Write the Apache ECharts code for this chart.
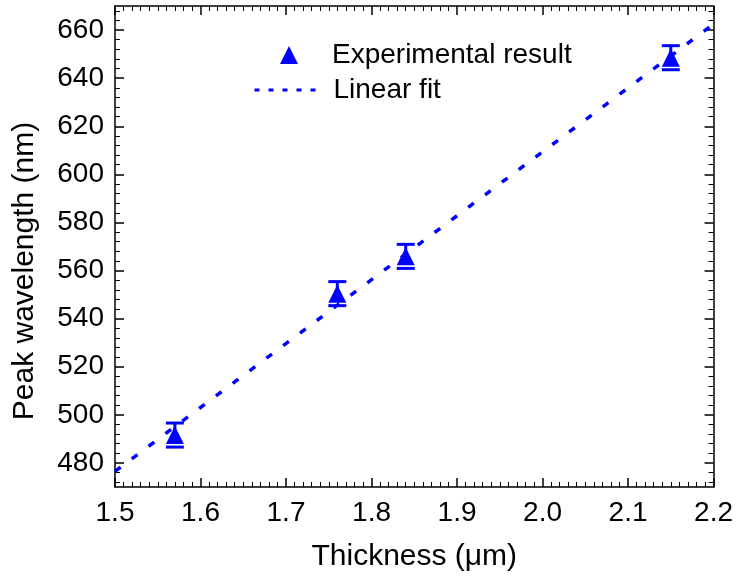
<!DOCTYPE html>
<html>
<head>
<meta charset="utf-8">
<script src="https://cdn.jsdelivr.net/npm/echarts@6/dist/echarts.min.js"></script>
<style>html,body{margin:0;padding:0;background:#fff}#c{width:736px;height:577px}</style>
</head>
<body>
<div id="c"></div>
<script>
const thickness = [1.57, 1.76, 1.84, 2.15];
const peakWavelength = [491.6, 550.4, 565.9, 648.5];
const errorNm = [5, 5, 5, 5];
const fitX = [1.5, 2.2];
const fitY = [476.5, 662.5];
const yMajorTicks = [480, 500, 520, 540, 560, 580, 600, 620, 640, 660];
const yMinorTicks = [472, 476, 484, 488, 492, 496, 504, 508, 512, 516, 524, 528, 532, 536,
  544, 548, 552, 556, 564, 568, 572, 576, 584, 588, 592, 596, 604, 608, 612, 616,
  624, 628, 632, 636, 644, 648, 652, 656, 664, 668];

const FONT = 'Liberation Sans, Arial, sans-serif';
const BLUE = '#0000ff';
const chart = echarts.init(document.getElementById('c'));

const xBase = {
  type: 'value', min: 1.5, max: 2.2, interval: 0.1,
  axisLine: { show: true, lineStyle: { color: '#000', width: 1.5 } },
  axisTick: { show: true, inside: true, length: 9, lineStyle: { color: '#000', width: 1.5 } },
  minorTick: { show: true, splitNumber: 10, length: 5, lineStyle: { color: '#000', width: 1 } },
  splitLine: { show: false }, minorSplitLine: { show: false }
};
const yBase = {
  type: 'value', min: 470, max: 670,
  splitLine: { show: false }
};

const scatterData = thickness.map((x, i) => [x, peakWavelength[i]]);
const errData = thickness.map((x, i) => [x, peakWavelength[i], errorNm[i]]);
const fitData = fitX.map((x, i) => [x, fitY[i]]);

const legendText = { fontFamily: FONT, fontSize: 28, color: '#000', lineHeight: 30 };

chart.setOption({
  animation: false,
  backgroundColor: '#fff',
  textStyle: { fontFamily: FONT },
  grid: { left: 115, right: 21, top: 6, bottom: 90, containLabel: false },
  legend: [
    {
      orient: 'vertical', left: 275, top: 35,
      itemWidth: 18, itemHeight: 18,
      textStyle: Object.assign({}, legendText, { padding: [0, 0, 0, 29] }),
      data: ['Experimental result']
    },
    {
      orient: 'vertical', left: 248, top: 70,
      itemWidth: 67, itemHeight: 18,
      lineStyle: { type: [5, 9], width: 3 },
      itemStyle: { opacity: 0 },
      textStyle: Object.assign({}, legendText, { padding: [0, 0, 0, 7] }),
      data: ['Linear fit']
    }
  ],
  xAxis: [
    Object.assign({}, xBase, {
      position: 'bottom',
      name: 'Thickness (\u03bcm)', nameLocation: 'middle', nameGap: 55,
      nameTextStyle: { fontFamily: FONT, fontSize: 30, color: '#000' },
      axisLabel: { show: true, margin: 12, fontFamily: FONT, fontSize: 28, color: '#000',
        formatter: v => v.toFixed(1) }
    }),
    Object.assign({}, xBase, { position: 'top', axisLabel: { show: false } })
  ],
  yAxis: [
    Object.assign({}, yBase, {
      position: 'left',
      name: 'Peak wavelength (nm)', nameLocation: 'middle', nameGap: 75,
      nameTextStyle: { fontFamily: FONT, fontSize: 30, color: '#000', padding: [0, 49, 0, 0] },
      axisLine: { show: true, lineStyle: { color: '#000', width: 1.5 } },
      axisTick: { show: true, inside: true, length: 9, customValues: yMajorTicks, lineStyle: { color: '#000', width: 1.5 } },
      axisLabel: { show: true, margin: 11, customValues: yMajorTicks, fontFamily: FONT, fontSize: 28, color: '#000' }
    }),
    Object.assign({}, yBase, {
      position: 'right',
      axisLine: { show: true, lineStyle: { color: '#000', width: 1.5 } },
      axisTick: { show: true, inside: true, length: 9, customValues: yMajorTicks, lineStyle: { color: '#000', width: 1.5 } },
      axisLabel: { show: false }
    }),
    Object.assign({}, yBase, {
      position: 'left',
      axisLine: { show: false },
      axisTick: { show: true, inside: true, length: 5, customValues: yMinorTicks, lineStyle: { color: '#000', width: 1 } },
      axisLabel: { show: false }
    }),
    Object.assign({}, yBase, {
      position: 'right',
      axisLine: { show: false },
      axisTick: { show: true, inside: true, length: 5, customValues: yMinorTicks, lineStyle: { color: '#000', width: 1 } },
      axisLabel: { show: false }
    })
  ],
  series: [
    {
      name: 'Linear fit', type: 'line', data: fitData,
      symbol: 'none', z: 2,
      lineStyle: { color: BLUE, width: 3.5, type: [7, 14] },
      itemStyle: { color: BLUE }
    },
    {
      name: 'errorbars', type: 'custom', data: errData, z: 3,
      renderItem: function (params, api) {
        const x = api.value(0), y = api.value(1), e = api.value(2);
        const top = api.coord([x, y + e]);
        const bot = api.coord([x, y - e]);
        const c = api.coord([x, y]);
        const hw = 9;
        const st = { stroke: BLUE, lineWidth: 3 };
        return {
          type: 'group', children: [
            { type: 'line', shape: { x1: top[0] - hw, y1: top[1], x2: top[0] + hw, y2: top[1] }, style: st },
            { type: 'line', shape: { x1: bot[0] - hw, y1: bot[1], x2: bot[0] + hw, y2: bot[1] }, style: st },
            { type: 'line', shape: { x1: c[0], y1: top[1], x2: c[0], y2: c[1] }, style: st }
          ]
        };
      }
    },
    {
      name: 'Experimental result', type: 'scatter', data: scatterData, z: 4,
      symbol: 'triangle', symbolSize: [18, 18],
      itemStyle: { color: BLUE, opacity: 1 }
    }
  ]
});
</script>
</body>
</html>
